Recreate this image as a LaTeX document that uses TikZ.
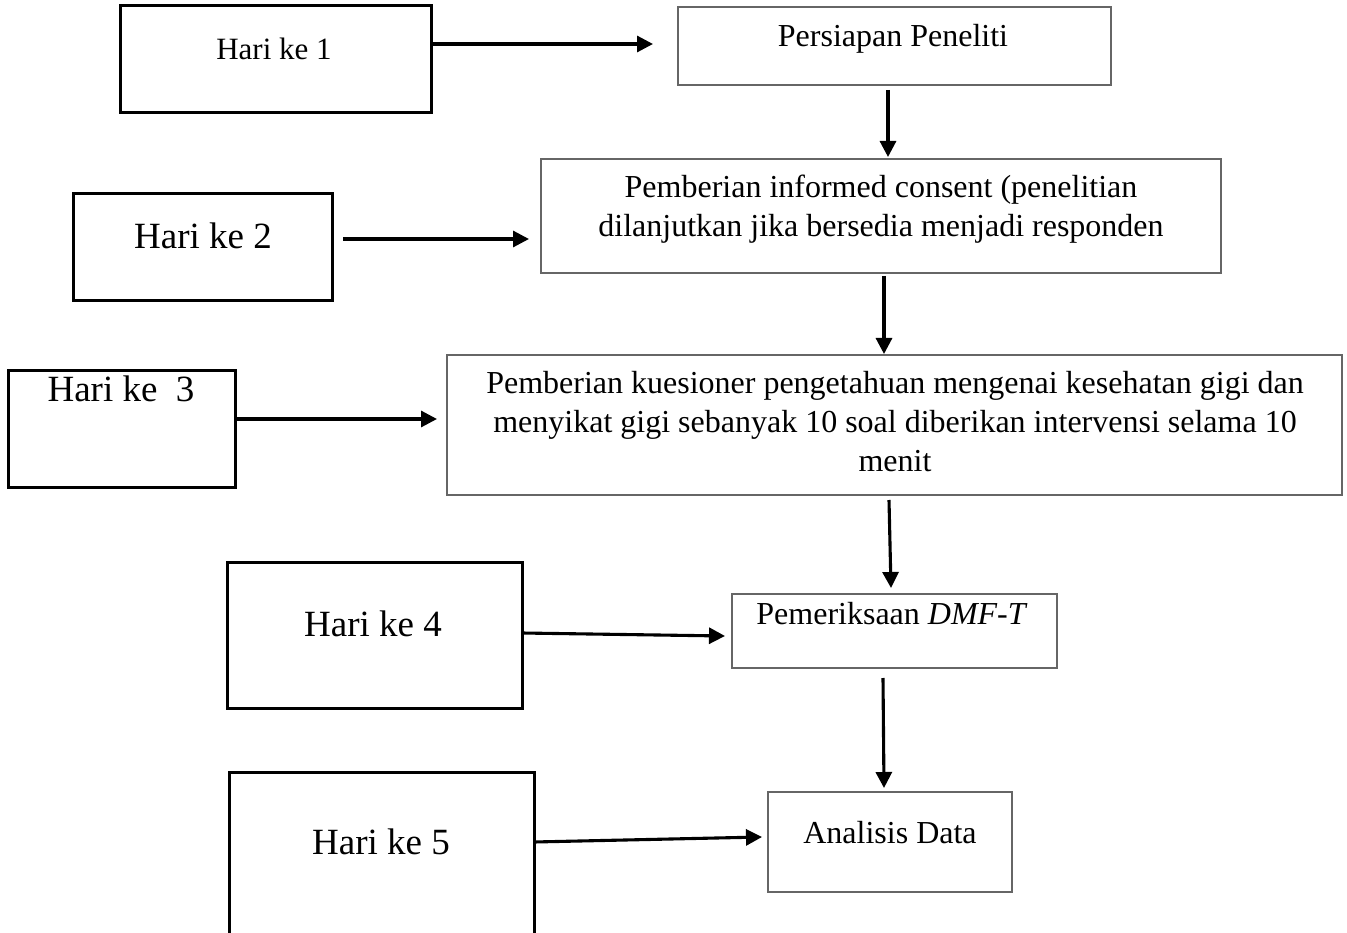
\documentclass[tikz,border=0pt]{standalone}
\usepackage{fontspec}
\setmainfont{Liberation Serif}
\usetikzlibrary{arrows.meta}
\begin{document}
\begin{tikzpicture}[x=1pt,y=-1pt,
  daybox/.style={draw=black,line width=3pt,rectangle,anchor=north west,inner sep=0pt,outer sep=0pt},
  stepbox/.style={draw=black!60,line width=1.5pt,rectangle,anchor=north west,inner sep=0pt,outer sep=0pt},
  txt/.style={font=\fontsize{32}{39}\selectfont,anchor=base,inner sep=0pt},
  bigtxt/.style={font=\fontsize{37}{44}\selectfont,anchor=base,inner sep=0pt},
  arr/.style={line width=3.1pt,-{Triangle[length=16pt,width=16pt]}}]
\useasboundingbox (0,0) rectangle (1347,933);
% day boxes
\node[daybox,minimum width=311pt,minimum height=107pt] (h1) at (120,6) {};
\node[daybox,minimum width=259pt,minimum height=107pt] (h2) at (73,194) {};
\node[daybox,minimum width=227pt,minimum height=117pt] (h3) at (8,370) {};
\node[daybox,minimum width=295pt,minimum height=146pt] (h4) at (227,562) {};
\node[daybox,minimum width=305pt,minimum height=190pt] (h5) at (229,772) {};
% step boxes
\node[stepbox,minimum width=433pt,minimum height=78pt] (p1) at (678,7) {};
\node[stepbox,minimum width=680pt,minimum height=114pt] (p2) at (541,159) {};
\node[stepbox,minimum width=895pt,minimum height=140pt] (p3) at (447,355) {};
\node[stepbox,minimum width=325pt,minimum height=74pt] (p4) at (732,594) {};
\node[stepbox,minimum width=244pt,minimum height=100pt] (p5) at (768,792) {};
% texts
\node[txt,font=\fontsize{31}{37}\selectfont] (t1) at (274,60) {Hari ke 1};
\node[bigtxt] (t2) at (203,249) {Hari ke 2};
\node[bigtxt] (t3) at (121,401) {Hari ke\ \ 3};
\node[bigtxt] (t4) at (373,636) {Hari ke 4};
\node[bigtxt] (t5) at (381,854) {Hari ke 5};
\node[txt] (s1) at (893,47) {Persiapan Peneliti};
\node[txt] (s2a) at (881,198) {Pemberian informed consent (penelitian};
\node[txt] (s2b) at (881,237) {dilanjutkan jika bersedia menjadi responden};
\node[txt] (s3a) at (895,393) {Pemberian kuesioner pengetahuan mengenai kesehatan gigi dan};
\node[txt] (s3b) at (895,432) {menyikat gigi sebanyak 10 soal diberikan intervensi selama 10};
\node[txt] (s3c) at (895,471) {menit};
\node[txt] (s4) at (892,624) {Pemeriksaan \textit{DMF-T}};
\node[txt] (s5) at (890,843) {Analisis Data};
% arrow end points
\coordinate (e1) at (653,44);
\coordinate (e2) at (529,239);
\coordinate (e3) at (437,419);
\coordinate (e4) at (725,636);
\coordinate (e5) at (762,837);
\coordinate (d1) at (888,157);
\coordinate (d2) at (884,354);
\coordinate (d3) at (891,588);
\coordinate (d4) at (884,788);
% horizontal connectors
\draw[arr] (h1.east |- e1) -- (e1);
\draw[arr] ([xshift=11pt]h2.east |- e2) -- (e2);
\draw[arr] (h3.east |- e3) -- (e3);
\draw[arr] (h4.east |- 0,633) -- (e4);
\draw[arr] (h5.east |- 0,842) -- (e5);
% vertical connectors
\draw[arr] ([yshift=-5pt]p1.south -| d1) -- (d1);
\draw[arr] ([yshift=-3pt]p2.south -| d2) -- (d2);
\draw[arr] ([yshift=-5pt]p3.south -| 889,0) -- (d3);
\draw[arr] ([yshift=-10pt]p4.south -| 883,0) -- (d4);
\end{tikzpicture}
\end{document}
